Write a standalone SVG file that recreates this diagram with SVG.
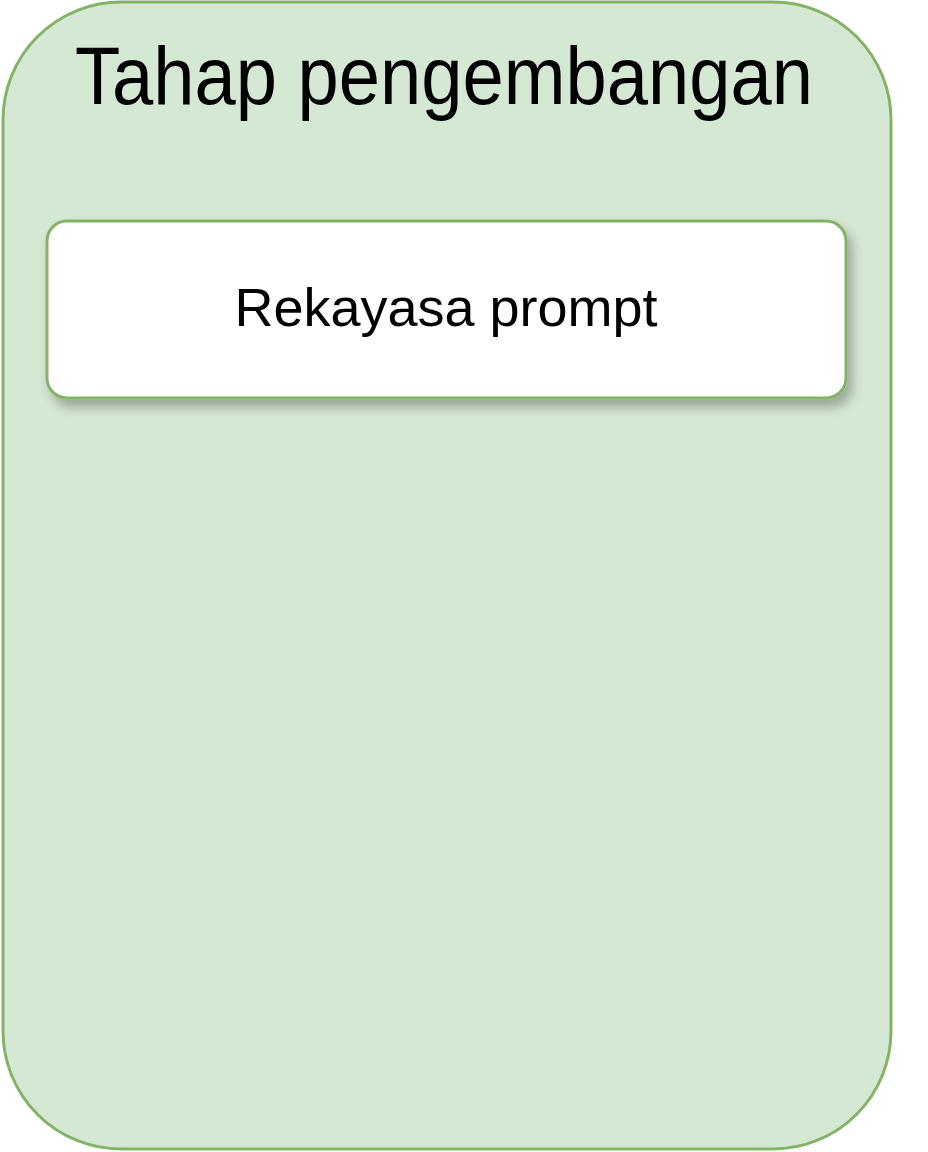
<svg xmlns="http://www.w3.org/2000/svg" width="928" height="1152" viewBox="0 0 928 1152">
  <style>
    .frame { fill: #d5e8d4; stroke: #82b366; stroke-width: 3; }
    .box { fill: #ffffff; stroke: #82b366; stroke-width: 3; }
    .title { font-family: "Liberation Sans", Arial, sans-serif; font-size: 81px; fill: #000000; }
    .label { font-family: "Liberation Sans", Arial, sans-serif; font-size: 54px; fill: #000000; }
  </style>
  <defs>
    <filter id="shadow" x="-10%" y="-20%" width="120%" height="160%">
      <feGaussianBlur in="SourceAlpha" stdDeviation="6"/>
      <feOffset dx="5" dy="8" result="b"/>
      <feComponentTransfer><feFuncA type="linear" slope="0.28"/></feComponentTransfer>
      <feMerge><feMergeNode/><feMergeNode in="SourceGraphic"/></feMerge>
    </filter>
  </defs>
  <rect width="928" height="1152" fill="#ffffff"/>
  <g id="container">
    <rect class="frame" x="3" y="2" width="888" height="1147" rx="118" ry="118"/>
    <text class="title" x="444" y="104" text-anchor="middle" textLength="738" lengthAdjust="spacingAndGlyphs">Tahap pengembangan</text>
  </g>
  <g id="node-rekayasa">
    <rect class="box" x="47" y="221" width="799" height="177" rx="20" ry="20" filter="url(#shadow)"/>
    <text class="label" x="446" y="326" text-anchor="middle">Rekayasa prompt</text>
  </g>
  <g id="connectors"></g>
</svg>
